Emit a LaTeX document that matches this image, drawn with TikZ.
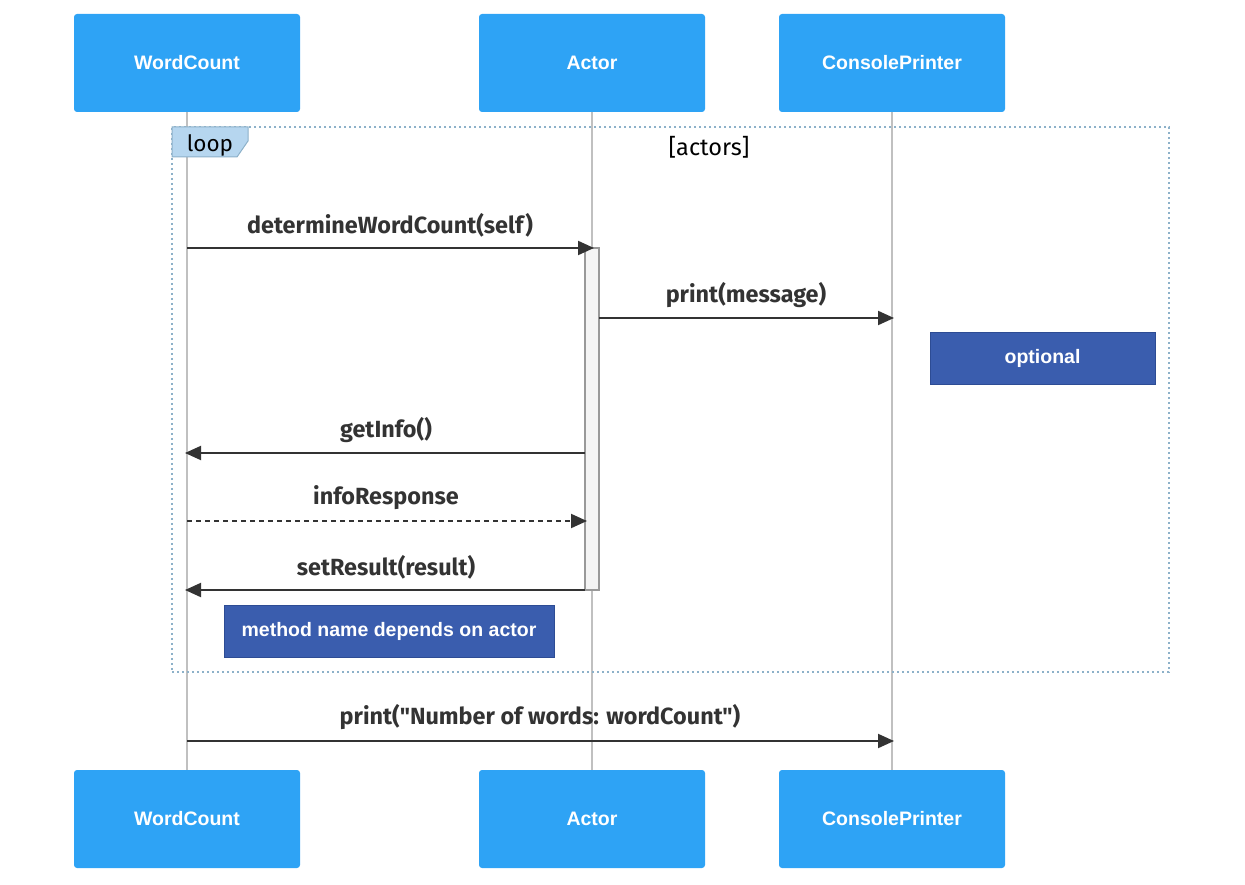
\documentclass[tikz,border=0pt]{standalone}
\usepackage{fontspec}
\usetikzlibrary{arrows.meta}
\setmainfont{Fira Sans}
\newfontfamily\arialfont{Liberation Sans}
\newfontfamily\msgfont{Fira Sans}
\definecolor{partfill}{HTML}{2EA3F5}
\definecolor{notefill}{HTML}{3A5DAE}
\definecolor{notedraw}{HTML}{2D4C94}
\definecolor{loopfill}{HTML}{B6D6EF}
\definecolor{loopdraw}{HTML}{8DB1C9}
\definecolor{lifecol}{HTML}{C0C0C0}
\definecolor{msgcol}{HTML}{333333}
\definecolor{actfill}{HTML}{F4F4F4}
\definecolor{actdraw}{HTML}{999999}
\tikzset{
  partbox/.style={draw=none, fill=partfill, rounded corners=3pt, minimum width=226pt, minimum height=98pt, inner sep=0pt, text=white, font=\arialfont\bfseries\fontsize{19.5}{22}\selectfont},
  notebox/.style={draw=notedraw, line width=1pt, fill=notefill, inner sep=0pt, text=white, font=\arialfont\bfseries\fontsize{19.5}{22}\selectfont},
  lifeline/.style={draw=lifecol, line width=2.8pt},
  msg/.style={draw=msgcol, line width=2pt, -{Triangle[length=16pt,width=14pt]}},
  msglabel/.style={text=msgcol, font=\msgfont\bfseries\fontsize{23.4}{27}\selectfont, inner sep=0pt},
}
\begin{document}
\begin{tikzpicture}[x=1pt,y=-1pt]
\useasboundingbox (0,0) rectangle (1245,885);
% participants
\node[partbox] (wc) at (187,63) {\raisebox{-1pt}{WordCount}};
\node[partbox] (ac) at (592,63) {\raisebox{-1pt}{Actor}};
\node[partbox] (cp) at (892,63) {\raisebox{-1pt}{ConsolePrinter}};
\node[partbox] (wcb) at (187,819) {\raisebox{-1pt}{WordCount}};
\node[partbox] (acb) at (592,819) {\raisebox{-1pt}{Actor}};
\node[partbox] (cpb) at (892,819) {\raisebox{-1pt}{ConsolePrinter}};
% lifelines
\draw[lifeline] (wc.south) -- (wcb.north);
\draw[lifeline] (ac.south) -- (acb.north);
\draw[lifeline] (cp.south) -- (cpb.north);
% activation
\node[draw=actdraw, fill=actfill, line width=1.5pt, minimum width=14pt, minimum height=342pt, inner sep=0pt] (act) at (592,419) {};
% loop frame
\node[draw=loopdraw, line width=2.4pt, dash pattern=on 2.4pt off 2.6pt, minimum width=997pt, minimum height=545pt, inner sep=0pt] (frame) at (670.5,399.5) {};
\draw[draw=loopdraw, fill=loopfill, line width=1pt] (172,127) -- (248,127) -- (248,141) -- (237,157) -- (172,157) -- cycle;
\node[font=\fontsize{22.5}{26}\selectfont, text=black, inner sep=0pt] (looplbl) at (210,145) {loop};
\node[font=\fontsize{23.5}{27}\selectfont, text=black, inner sep=0pt] (cond) at (709,147) {[actors]};
% message coordinates
\coordinate (m1s) at (187,248); \coordinate (m1e) at (594,248);
\coordinate (m2s) at (599,318); \coordinate (m2e) at (894,318);
\coordinate (m3s) at (585,453); \coordinate (m3e) at (185,453);
\coordinate (m4s) at (187,521); \coordinate (m4e) at (587,521);
\coordinate (m5s) at (585,590); \coordinate (m5e) at (185,590);
\coordinate (m6s) at (187,741); \coordinate (m6e) at (894,741);
% messages
\draw[msg] (m1s) -- (m1e);
\node[msglabel] (l1) at (390,225) {determineWordCount(self)};
\draw[msg] (m2s) -- (m2e);
\node[msglabel] (l2) at (746,295) {print(message)};
\draw[msg] (m3s) -- (m3e);
\node[msglabel] (l3) at (386,430) {getInfo()};
\draw[msg, dash pattern=on 5pt off 4pt] (m4s) -- (m4e);
\node[msglabel] (l4) at (386,498) {infoResponse};
\draw[msg] (m5s) -- (m5e);
\node[msglabel] (l5) at (386,567) {setResult(result)};
\draw[msg] (m6s) -- (m6e);
\node[msglabel] (l6) at (540,717) {print("Number of words: wordCount")};
% notes
\node[notebox, minimum width=225pt, minimum height=51pt] (n1) at (1042.5,358.5) {optional};
\node[notebox, minimum width=330pt, minimum height=52pt] (n2) at (389,631) {method name depends on actor};
\end{tikzpicture}
\end{document}
